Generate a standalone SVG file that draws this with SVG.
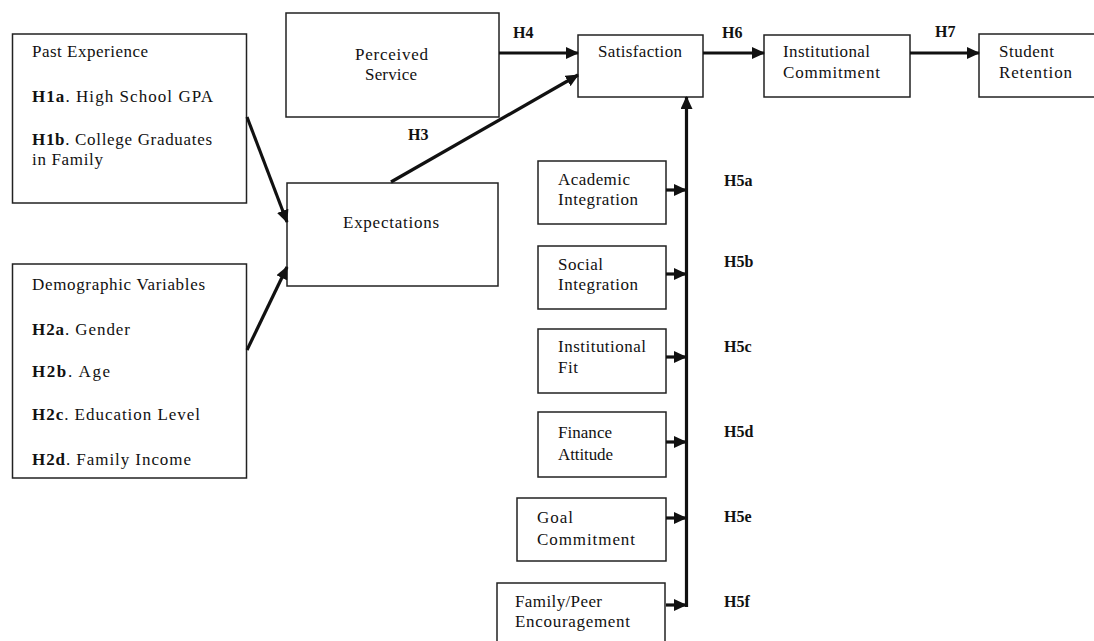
<svg xmlns="http://www.w3.org/2000/svg" width="1094" height="641" viewBox="0 0 1094 641">
<style>
.box{fill:#fff;stroke:#222;stroke-width:1.5}
.t{font-family:"Liberation Serif","Times New Roman",serif;font-size:17px;fill:#111}
.b{font-weight:bold}
.lbl{font-family:"Liberation Serif","Times New Roman",serif;font-size:16px;font-weight:bold;fill:#111}
.c{stroke:#111;stroke-width:3.2;fill:none;marker-end:url(#ah)}
</style>
<defs>
<marker id="ah" markerUnits="userSpaceOnUse" markerWidth="13" markerHeight="12" refX="12" refY="6" orient="auto">
<path d="M0,0 L13,6 L0,12 z" fill="#111"/>
</marker>
</defs>
<rect width="1094" height="641" fill="#fff"/>
<g id="past-experience">
<rect class="box" x="12.5" y="34" width="234" height="169"/>
<text class="t" x="32" y="57" textLength="116">Past Experience</text>
<text class="t" x="32" y="102" textLength="181"><tspan class="b">H1a</tspan>. High School GPA</text>
<text class="t" x="32" y="145" textLength="180"><tspan class="b">H1b</tspan>. College Graduates</text>
<text class="t" x="32" y="165" textLength="71">in Family</text>
</g>
<g id="demographic">
<rect class="box" x="12.5" y="264" width="234" height="214"/>
<text class="t" x="32" y="290" textLength="173">Demographic Variables</text>
<text class="t" x="32" y="335" textLength="98"><tspan class="b">H2a</tspan>. Gender</text>
<text class="t" x="32" y="377" textLength="78"><tspan class="b">H2b</tspan>. Age</text>
<text class="t" x="32" y="420" textLength="168"><tspan class="b">H2c</tspan>. Education Level</text>
<text class="t" x="32" y="465" textLength="159"><tspan class="b">H2d</tspan>. Family Income</text>
</g>
<g id="perceived-service">
<rect class="box" x="286" y="13" width="213" height="104"/>
<text class="t" x="355" y="60" textLength="73">Perceived</text>
<text class="t" x="365" y="80" textLength="52">Service</text>
</g>
<g id="expectations">
<rect class="box" x="287" y="183" width="211" height="103"/>
<text class="t" x="343" y="228" textLength="96">Expectations</text>
</g>
<g id="satisfaction">
<rect class="box" x="578" y="35" width="125" height="62"/>
<text class="t" x="598" y="57" textLength="84">Satisfaction</text>
</g>
<g id="institutional-commitment">
<rect class="box" x="764" y="35" width="146" height="62"/>
<text class="t" x="783" y="57" textLength="87">Institutional</text>
<text class="t" x="783" y="78" textLength="97">Commitment</text>
</g>
<g id="student-retention">
<rect class="box" x="979" y="34" width="130" height="63"/>
<text class="t" x="999" y="57" textLength="55">Student</text>
<text class="t" x="999" y="78" textLength="73">Retention</text>
</g>
<g id="academic-integration">
<rect class="box" x="538" y="161" width="128" height="63"/>
<text class="t" x="558" y="185" textLength="72">Academic</text>
<text class="t" x="558" y="205" textLength="80">Integration</text>
</g>
<g id="social-integration">
<rect class="box" x="538" y="246" width="128" height="63"/>
<text class="t" x="558" y="270" textLength="45">Social</text>
<text class="t" x="558" y="290" textLength="80">Integration</text>
</g>
<g id="institutional-fit">
<rect class="box" x="538" y="329" width="128" height="64"/>
<text class="t" x="558" y="352" textLength="88">Institutional</text>
<text class="t" x="558" y="373" textLength="20">Fit</text>
</g>
<g id="finance-attitude">
<rect class="box" x="538" y="412" width="128" height="65"/>
<text class="t" x="558" y="438" textLength="54">Finance</text>
<text class="t" x="558" y="460" textLength="55">Attitude</text>
</g>
<g id="goal-commitment">
<rect class="box" x="517" y="498" width="149" height="63"/>
<text class="t" x="537" y="523" textLength="36">Goal</text>
<text class="t" x="537" y="545" textLength="98">Commitment</text>
</g>
<g id="family-peer">
<rect class="box" x="497" y="583" width="168" height="70"/>
<text class="t" x="515" y="607" textLength="87">Family/Peer</text>
<text class="t" x="515" y="627" textLength="115">Encouragement</text>
</g>
<g id="connectors">
<line class="c" x1="247" y1="117" x2="287" y2="222"/>
<line class="c" x1="247" y1="350" x2="287" y2="267"/>
<line class="c" x1="391" y1="182" x2="578" y2="75"/>
<line class="c" x1="499" y1="53" x2="578" y2="53"/>
<line class="c" x1="703" y1="53" x2="764" y2="53"/>
<line class="c" x1="910" y1="53" x2="979" y2="53"/>
<line class="c" x1="686.5" y1="607" x2="686.5" y2="97"/>
<line class="c" x1="666" y1="190" x2="686" y2="190"/>
<line class="c" x1="666" y1="274" x2="686" y2="274"/>
<line class="c" x1="666" y1="357" x2="686" y2="357"/>
<line class="c" x1="666" y1="442" x2="686" y2="442"/>
<line class="c" x1="666" y1="518" x2="686" y2="518"/>
<line class="c" x1="666" y1="605" x2="686" y2="605"/>
</g>
<g id="labels">
<text class="lbl" x="513" y="38">H4</text>
<text class="lbl" x="408" y="140">H3</text>
<text class="lbl" x="722" y="38">H6</text>
<text class="lbl" x="935" y="37">H7</text>
<text class="lbl" x="724" y="186">H5a</text>
<text class="lbl" x="724" y="267">H5b</text>
<text class="lbl" x="724" y="352">H5c</text>
<text class="lbl" x="724" y="437">H5d</text>
<text class="lbl" x="724" y="522">H5e</text>
<text class="lbl" x="724" y="607">H5f</text>
</g>
</svg>
